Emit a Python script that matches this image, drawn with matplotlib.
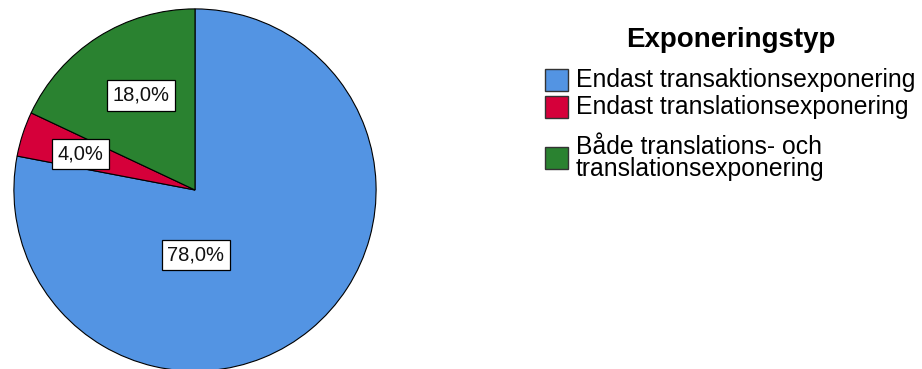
import matplotlib.pyplot as plt
from matplotlib.patches import Rectangle

plt.rcParams['font.family'] = ['Liberation Sans', 'DejaVu Sans']

categories = ['Endast transaktionsexponering',
              'Endast translationsexponering',
              'Både translations- och\ntranslationsexponering']
shares = [78.0, 4.0, 18.0]
colors = ['#5394e3', '#d5003a', '#2a8230']
# label offsets from the pie centre, in radius units
label_pos = [(0.005, -0.357), (-0.632, 0.198), (-0.297, 0.522)]

W, H = 922, 369
fig = plt.figure(figsize=(W / 100, H / 100), dpi=100)
ax = fig.add_axes([13 / W, -3 / H, 364 / W, 364 / H])

wedges, _ = ax.pie(shares, colors=colors, startangle=90, counterclock=False,
                   radius=1, wedgeprops=dict(edgecolor='black', linewidth=0.8))
ax.set_xlim(-1.005, 1.005)
ax.set_ylim(-1.005, 1.005)
ax.set_aspect('equal')
ax.axis('off')

for val, (x, y) in zip(shares, label_pos):
    ax.text(x, y, f'{val:.1f}%'.replace('.', ','), ha='center', va='center',
            fontsize=14.5, color='#111111',
            bbox=dict(boxstyle='square,pad=0.28', fc='white', ec='black', lw=0.9))

# legend, laid out by hand in pixel positions (y measured from the top)
def fx(px):
    return px / W

def fy(py):
    return 1 - py / H

fig.text(fx(731), fy(40), 'Exponeringstyp', ha='center', va='center',
         fontsize=20, fontweight='bold')
entry_y = [80, 107, 158]
for c, lab, yc in zip(colors, categories, entry_y):
    fig.patches.append(Rectangle((fx(545), fy(yc + 11)), 23 / W, 22 / H,
                                 transform=fig.transFigure, facecolor=c,
                                 edgecolor='#333333', lw=1.0))
    fig.text(fx(576), fy(yc), lab, ha='left', va='center', fontsize=17.8,
             linespacing=0.9)

fig.savefig('out.png', dpi=100)
